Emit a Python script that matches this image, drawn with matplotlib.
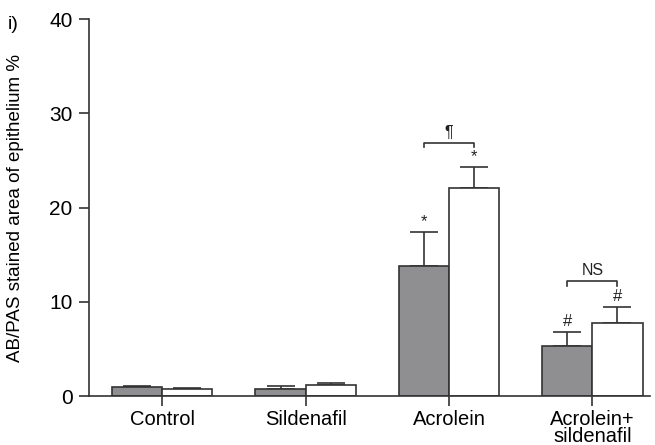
import numpy as np
import matplotlib.pyplot as plt

plt.rcParams['font.family'] = ['Liberation Sans', 'DejaVu Sans']

groups = ["Control", "Sildenafil", "Acrolein", "Acrolein+\nsildenafil"]
gray_vals = [0.95, 0.7, 13.8, 5.3]
gray_err = [0.1, 0.35, 3.6, 1.5]
white_vals = [0.7, 1.15, 22.1, 7.7]
white_err = [0.15, 0.25, 2.2, 1.8]
gray_marks = ["", "", "*", "#"]
white_marks = ["", "", "*", "#"]

x = np.arange(len(groups))
w = 0.35
edge = "#333333"

fig = plt.figure(figsize=(6.55, 4.45), dpi=100)
ax = fig.add_axes([0.136, 0.110, 0.856, 0.847])

ax.bar(x - w / 2, gray_vals, w, color="#8f8f91", edgecolor=edge, linewidth=1.2, zorder=2)
ax.bar(x + w / 2, white_vals, w, color="white", edgecolor=edge, linewidth=1.2, zorder=2)
ax.errorbar(x - w / 2, gray_vals, yerr=[np.zeros(4), gray_err], fmt="none",
            ecolor=edge, elinewidth=1.2, capsize=10, capthick=1.2, zorder=1)
ax.errorbar(x + w / 2, white_vals, yerr=[np.zeros(4), white_err], fmt="none",
            ecolor=edge, elinewidth=1.2, capsize=10, capthick=1.2, zorder=1)

for i in range(len(groups)):
    if gray_marks[i]:
        ax.text(x[i] - w / 2, gray_vals[i] + gray_err[i] + 0.3, gray_marks[i],
                ha="center", va="bottom", fontsize=12, color="#222222")
    if white_marks[i]:
        ax.text(x[i] + w / 2, white_vals[i] + white_err[i] + 0.3, white_marks[i],
                ha="center", va="bottom", fontsize=12, color="#222222")

# comparison brackets
def bracket(xc, y, label):
    x0, x1 = xc - w / 2, xc + w / 2
    ax.plot([x0, x0, x1, x1], [y - 0.5, y, y, y - 0.5], color=edge, lw=1.2, clip_on=False)
    ax.text(xc, y + 0.3, label, ha="center", va="bottom", fontsize=11.5, color="#222222")

bracket(x[2], 26.9, "¶")
bracket(x[3], 12.2, "NS")

ax.set_xlim(-0.51, 3.4)
ax.set_ylim(0, 40)
ax.set_yticks([0, 10, 20, 30, 40])
ax.set_xticks(x)
ax.set_xticklabels(groups, fontsize=14.5, linespacing=0.9)
ax.tick_params(axis="y", labelsize=15, length=7, width=1.2, color=edge, pad=5)
ax.tick_params(axis="x", length=7, width=1.2, color=edge, pad=3)
ax.spines["top"].set_visible(False)
ax.spines["right"].set_visible(False)
ax.spines["left"].set_color(edge)
ax.spines["bottom"].set_color(edge)
ax.spines["left"].set_linewidth(1.2)
ax.spines["bottom"].set_linewidth(1.2)
ax.set_ylabel("AB/PAS stained area of epithelium %", fontsize=13.5, labelpad=18)
fig.text(0.012, 0.965, "i)", fontsize=14, va="top")

fig.savefig("out.png", dpi=100)
